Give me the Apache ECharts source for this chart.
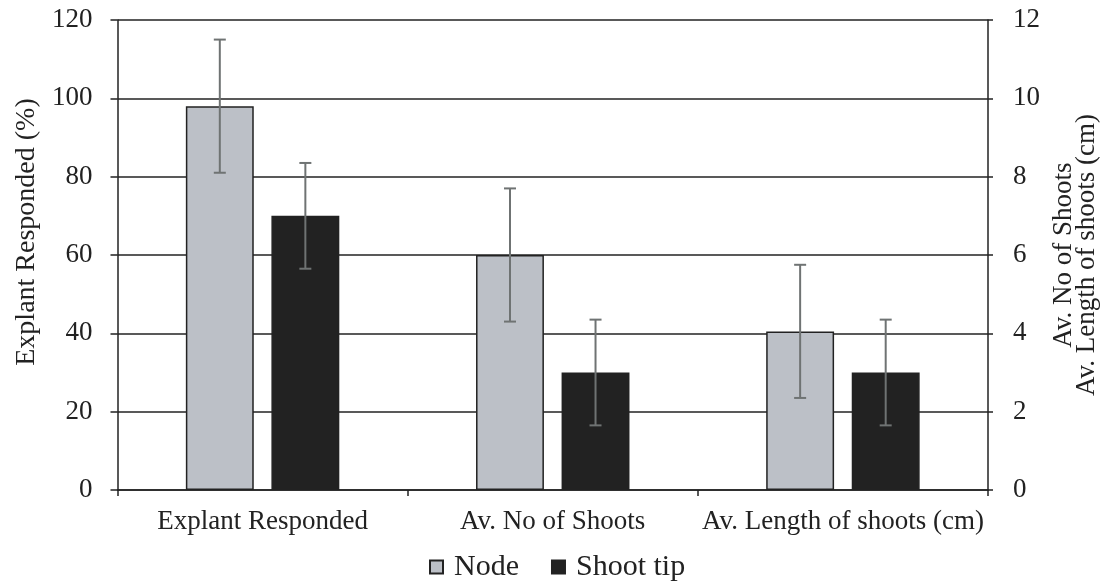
<!DOCTYPE html>
<html><head><meta charset="utf-8">
<script src="https://cdn.jsdelivr.net/npm/echarts@6/dist/echarts.min.js"></script>
<style>html,body{margin:0;padding:0;background:#fff;overflow:hidden}#c{width:1100px;height:587px}</style>
</head><body><div id="c"></div>
<script>
// ---- data ----
const categories = ['Explant Responded', 'Av. No of Shoots', 'Av. Length of shoots (cm)'];
const axisOfCategory = [0, 1, 1]; // 0 = left axis (%), 1 = right axis
const leftAxisRange = [0, 120, 20];
const rightAxisRange = [0, 12, 2];
const nodeMean = [98, 6.0, 4.05];
const nodeErr = [17, 1.7, 1.7];
const tipMean = [70, 3.0, 3.0];
const tipErr = [13.5, 1.35, 1.35];
const seriesNames = ['Node', 'Shoot tip'];

// ---- style ----
const FONT = 'Liberation Serif';
const TXT = '#222';
const BAR_W = 0.234;
const BAR_GAP = 0.26;
const nodeColor = '#bcc0c7';
const tipColor = '#222222';
const errColor = '#6f7373';

function pick(arr, axis) { return arr.map((v, i) => axisOfCategory[i] === axis ? v : '-'); }
function errData(mean, err, axis) {
  const out = [];
  mean.forEach((v, i) => { if (axisOfCategory[i] === axis) out.push([i, v, err[i]]); });
  return out;
}
function errRender(sign) {
  return function (params, api) {
    const i = api.value(0), v = api.value(1), e = api.value(2);
    const band = api.size([1, 0])[0];
    const bw = band * BAR_W, gap = bw * BAR_GAP;
    const off = sign * (bw + gap) / 2;
    const top = api.coord([i, v + e]);
    const bot = api.coord([i, v - e]);
    const x = top[0] + off;
    const cap = 6;
    const st = { stroke: errColor, lineWidth: 2 };
    return { type: 'group', children: [
      { type: 'line', shape: { x1: x, y1: top[1], x2: x, y2: bot[1] }, style: st },
      { type: 'line', shape: { x1: x - cap, y1: top[1], x2: x + cap, y2: top[1] }, style: st },
      { type: 'line', shape: { x1: x - cap, y1: bot[1], x2: x + cap, y2: bot[1] }, style: st }
    ]};
  };
}
function barSeries(name, data, axis, color, stack) {
  return {
    name: name, type: 'bar', yAxisIndex: axis, stack: stack,
    data: pick(data, axis), barWidth: (BAR_W * 100) + '%', barGap: (BAR_GAP * 100) + '%',
    itemStyle: { color: color, borderColor: '#222', borderWidth: 1.5 },
    emphasis: { disabled: true }, z: 2
  };
}
function errSeries(name, mean, err, axis, sign) {
  return {
    name: name, type: 'custom', yAxisIndex: axis, z: 4,
    renderItem: errRender(sign), data: errData(mean, err, axis), silent: true
  };
}

const chart = echarts.init(document.getElementById('c'), null, { renderer: 'canvas' });
const axisLineStyle = { color: '#222', width: 1.5 };
chart.setOption({
  backgroundColor: '#fff',
  animation: false,
  textStyle: { fontFamily: FONT, color: TXT },
  grid: { left: 117.5, right: 112, top: 20, bottom: 97, containLabel: false, outerBoundsMode: 'none' },
  legend: {
    data: seriesNames, left: 429, top: 552, padding: 0, itemWidth: 13, itemHeight: 13, itemGap: 32,
    icon: 'rect',
    textStyle: { fontFamily: FONT, fontSize: 30, color: TXT, padding: [0, 0, 0, 6] }
  },
  xAxis: {
    type: 'category', data: categories,
    axisLine: { lineStyle: axisLineStyle },
    axisTick: { show: true, length: 6, lineStyle: axisLineStyle },
    axisLabel: { interval: 0, margin: 18, fontFamily: FONT, fontSize: 27, color: TXT },
    splitLine: { show: false }
  },
  yAxis: [
    {
      type: 'value', min: leftAxisRange[0], max: leftAxisRange[1], interval: leftAxisRange[2],
      name: 'Explant Responded (%)', nameLocation: 'middle', nameRotate: 90, nameGap: 76,
      nameTextStyle: { fontFamily: FONT, fontSize: 28, color: TXT, padding: [0, 0, 0, 46] },
      axisLine: { show: true, lineStyle: axisLineStyle },
      axisTick: { show: true, length: 7, lineStyle: axisLineStyle },
      axisLabel: { margin: 25, fontFamily: FONT, fontSize: 27, color: TXT },
      splitLine: { show: true, lineStyle: { color: '#222', width: 1.5 } }
    },
    {
      type: 'value', position: 'right', min: rightAxisRange[0], max: rightAxisRange[1], interval: rightAxisRange[2],
      name: 'Av. No of Shoots\nAv. Length of shoots (cm)', nameLocation: 'middle', nameRotate: 90, nameGap: 60,
      nameTextStyle: { fontFamily: FONT, fontSize: 27, color: TXT, lineHeight: 23 },
      axisLine: { show: true, lineStyle: axisLineStyle },
      axisTick: { show: true, length: 5, lineStyle: axisLineStyle },
      axisLabel: { margin: 25, fontFamily: FONT, fontSize: 27, color: TXT },
      splitLine: { show: false }
    }
  ],
  series: [
    barSeries(seriesNames[0], nodeMean, 0, nodeColor, 'node'),
    barSeries(seriesNames[0], nodeMean, 1, nodeColor, 'node'),
    barSeries(seriesNames[1], tipMean, 0, tipColor, 'tip'),
    barSeries(seriesNames[1], tipMean, 1, tipColor, 'tip'),
    errSeries(seriesNames[0], nodeMean, nodeErr, 0, -1),
    errSeries(seriesNames[0], nodeMean, nodeErr, 1, -1),
    errSeries(seriesNames[1], tipMean, tipErr, 0, 1),
    errSeries(seriesNames[1], tipMean, tipErr, 1, 1)
  ]
});
</script></body></html>
